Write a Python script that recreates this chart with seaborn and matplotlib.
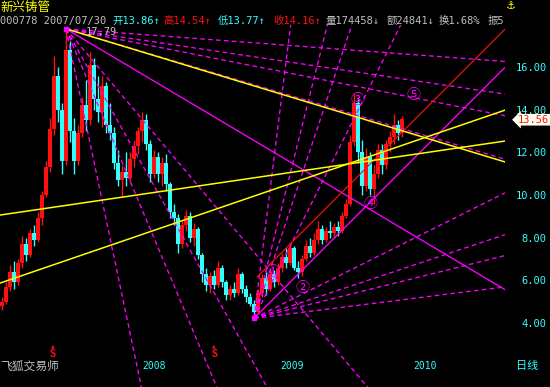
import numpy as np
import pandas as pd
import seaborn as sns
import matplotlib
matplotlib.use("Agg")
import matplotlib.pyplot as plt
from matplotlib.transforms import blended_transform_factory

# daily candles (one every few sessions)
opens = [4.8, 5.0, 5.7, 6.4, 5.9, 6.8, 7.7, 7.2, 8.2, 7.9,
         8.9, 10.0, 11.3, 13.1, 15.6, 14.0, 11.6, 16.8, 13.0, 11.6,
         12.9, 14.2, 13.5, 16.1, 14.5, 13.9, 15.1, 13.3, 12.9, 11.5,
         10.7, 11.1, 10.8, 11.7, 12.3, 13.0, 13.5, 12.4, 11.0, 11.8,
         11.0, 11.5, 10.5, 9.2, 8.9, 7.7, 8.6, 9.0, 8.0, 8.4,
         7.2, 6.3, 5.8, 6.2, 5.8, 6.6, 5.9, 5.3, 5.6, 5.4,
         6.3, 5.6, 5.2, 4.9, 4.5, 5.4, 6.1, 5.6, 6.3, 5.9,
         6.6, 7.1, 6.8, 7.5, 6.6, 6.4, 7.0, 7.6, 7.3, 7.9,
         8.4, 7.9, 8.3, 8.2, 8.5, 8.3, 9.0, 9.6, 12.5, 14.3,
         12.0, 10.4, 11.8, 10.3, 11.0, 12.1, 11.4, 12.4, 12.7, 13.3,
         12.9]
highs = [5.2, 5.9, 6.7, 6.9, 7.0, 8.1, 8.0, 8.4, 8.6, 9.2,
         10.2, 11.6, 13.6, 16.5, 16.0, 14.3, 17.79, 17.2, 13.6, 13.3,
         14.6, 15.4, 16.7, 16.4, 15.6, 15.6, 15.3, 14.3, 13.2, 12.1,
         11.4, 12.0, 12.0, 12.6, 13.2, 13.9, 13.8, 12.6, 12.1, 12.0,
         11.8, 11.9, 10.6, 9.6, 9.1, 8.8, 9.3, 9.2, 8.7, 8.5,
         7.3, 6.6, 6.4, 6.5, 6.9, 6.7, 6.0, 5.8, 5.9, 6.6,
         6.4, 5.8, 5.4, 5.1, 5.6, 6.3, 6.4, 6.6, 6.5, 6.8,
         7.3, 7.5, 7.8, 7.6, 6.9, 7.2, 7.9, 8.0, 8.2, 8.8,
         8.6, 8.5, 8.8, 8.7, 8.8, 9.2, 9.8, 12.8, 14.8, 14.5,
         12.6, 12.2, 12.0, 11.4, 12.4, 12.4, 12.6, 13.0, 13.8, 13.5,
         13.7]
lows = [4.6, 4.9, 5.5, 5.6, 5.8, 6.6, 6.9, 7.1, 7.6, 7.8,
        8.6, 9.9, 11.1, 12.8, 13.4, 11.0, 11.4, 12.5, 11.0, 11.4,
        12.7, 13.0, 13.3, 14.0, 13.4, 13.2, 12.9, 12.6, 11.2, 10.4,
        9.9, 10.4, 10.6, 11.3, 11.9, 12.5, 12.1, 10.6, 10.8, 10.6,
        10.4, 10.2, 8.9, 8.6, 7.3, 7.5, 8.3, 7.8, 7.6, 7.0,
        5.9, 5.5, 5.4, 5.6, 5.7, 5.7, 5.1, 5.1, 5.2, 5.3,
        5.4, 5.0, 4.8, 4.22, 4.4, 5.2, 5.3, 5.5, 5.7, 5.8,
        6.4, 6.6, 6.7, 6.5, 6.1, 6.2, 6.9, 7.1, 7.2, 7.7,
        7.7, 7.8, 8.0, 8.0, 8.1, 8.2, 8.9, 9.5, 12.3, 11.5,
        10.0, 10.2, 10.0, 9.6, 10.8, 11.0, 11.2, 12.0, 12.4, 12.6,
        12.7]
closes = [5.0, 5.7, 6.4, 5.9, 6.8, 7.7, 7.2, 8.2, 7.9, 8.9,
          10.0, 11.3, 13.1, 15.6, 14.0, 11.6, 16.8, 13.0, 11.6, 12.9,
          14.2, 13.5, 16.1, 14.5, 13.9, 15.1, 13.3, 12.9, 11.5, 10.7,
          11.1, 10.8, 11.7, 12.3, 13.0, 13.5, 12.4, 11.0, 11.8, 11.0,
          11.5, 10.5, 9.2, 8.9, 7.7, 8.6, 9.0, 8.0, 8.4, 7.2,
          6.3, 5.8, 6.2, 5.8, 6.6, 5.9, 5.3, 5.6, 5.4, 6.3,
          5.6, 5.2, 4.9, 4.5, 5.4, 6.1, 5.6, 6.3, 5.9, 6.6,
          7.1, 6.8, 7.5, 6.6, 6.4, 7.0, 7.6, 7.3, 7.9, 8.4,
          7.9, 8.3, 8.2, 8.5, 8.3, 9.0, 9.6, 12.5, 14.3, 12.0,
          10.4, 11.8, 10.3, 11.0, 12.1, 11.4, 12.4, 12.7, 13.3, 12.9,
          13.56]

# gann fans: origin bar, origin price, 1x1 slope (price per bar)
fan_origin_idx = [16, 63]
fan_origin_price = [17.79, 4.22]
fan_unit_slope = [-0.1114, 0.1875]
fan_ratios = [8, 4, 3, 2, 1, 1 / 2, 1 / 3, 1 / 4, 1 / 8]

# hand drawn trend lines (start bar, start price, end bar, end price)
yellow_x0 = [16, -0.5, -0.5]
yellow_p0 = [17.79, 9.06, 5.87]
yellow_x1 = [125.75, 125.75, 125.75]
yellow_p1 = [11.55, 12.53, 13.98]
channel_x0, channel_p0 = 63.75, 6.15

wave_labels = ["①", "②", "③", "④", "⑤"]
wave_idx = [67.5, 75.0, 88.75, 92.0, 102.75]
wave_price = [6.39, 5.64, 14.45, 9.56, 14.69]

signal_idx = [12.65, 53.0]
price_ticks = [4, 6, 8, 10, 12, 14, 16]
year_labels = ["2008", "2009", "2010"]
year_idx = [35.0, 69.5, 102.75]
last_price = 13.56

RED, CYAN, YEL, MAG, GRAY = "#ff1010", "#33ffff", "#ffff00", "#ff00ff", "#c0c0c0"

sns.set_theme(style="dark", rc={"axes.facecolor": "black", "figure.facecolor": "black",
                                "savefig.facecolor": "black"})
plt.rcParams["font.family"] = ["DejaVu Sans Mono", "Noto Sans CJK SC"]

fig = plt.figure(figsize=(5.5, 3.87), dpi=100)
ax = fig.add_axes([0, 0, 505 / 550, 362 / 387])
XMAX = 125.75
ax.set_xlim(-0.5, XMAX)
ax.set_ylim(1.0, 17.97)

df = pd.DataFrame({"o": opens, "h": highs, "l": lows, "c": closes})
df["idx"] = np.arange(len(df))
cols = np.where(df.c >= df.o, RED, CYAN)
ax.vlines(df.idx, df.l, df.h, colors=cols, lw=1.0)
body_lo = np.minimum(df.o, df.c)
body_h = np.maximum(np.abs(df.c - df.o), 0.04)
ax.bar(df.idx, body_h, bottom=body_lo, width=0.88, color=cols, linewidth=0)


def seg(x0, p0, x1, p1, color, lw=0.95, ls="-"):
    sns.lineplot(x=[x0, x1], y=[p0, p1], ax=ax, color=color, lw=lw,
                 linestyle=ls, estimator=None, sort=False, legend=False)


# gann fans
for x0, p0, s in zip(fan_origin_idx, fan_origin_price, fan_unit_slope):
    for r in fan_ratios:
        p1 = p0 + s * r * (XMAX - x0)
        seg(x0, p0, XMAX, p1, MAG, ls="-" if r == 1 else (0, (3.5, 2.5)))

# channel line parallel to the low's 1x1
seg(channel_x0, channel_p0, XMAX,
    channel_p0 + fan_unit_slope[1] * (XMAX - channel_x0), RED, lw=0.85)

for a, b, c, d in zip(yellow_x0, yellow_p0, yellow_x1, yellow_p1):
    seg(a, b, c, d, YEL, lw=1.1)

ax.plot(fan_origin_idx, fan_origin_price, "s", color=MAG, ms=3.5)
ax.text(21, 17.66, "17.79", color=GRAY, fontsize=7.5, va="center")

for lab, xi, pi in zip(wave_labels, wave_idx, wave_price):
    ax.text(xi, pi, lab, color=MAG, fontsize=10, ha="center", va="center",
            family=["Noto Sans CJK SC"])

for xi in signal_idx:
    ax.text(xi, 2.95, "▲", color=RED, fontsize=3.5, ha="center", va="center",
            family=["DejaVu Sans"])
    ax.text(xi, 2.55, "S", color=RED, fontsize=7.5, ha="center", va="center",
            fontweight="bold")

for lab, xi in zip(year_labels, year_idx):
    ax.text(xi, 1.98, lab, color=CYAN, fontsize=7, ha="left", va="center")

# price axis on the right
ax.set_xticks([])
ax.yaxis.tick_right()
ax.set_yticks(price_ticks)
ax.set_yticklabels([f"{v:.2f}" for v in price_ticks])
ax.tick_params(axis="y", length=0, pad=30, labelcolor=CYAN, labelsize=7.5)
for lbl in ax.get_yticklabels():
    lbl.set_horizontalalignment("right")
for sp in ax.spines.values():
    sp.set_visible(False)
ax.grid(False)

tr = blended_transform_factory(ax.transAxes, ax.transData)
ax.text(1.026, last_price - 0.03, f"{last_price:.2f}", transform=tr, color=RED, fontsize=7.5,
        ha="left", va="center", clip_on=False,
        bbox=dict(boxstyle="larrow,pad=0.08", fc="#fffff0", ec="none"))


# header
def ftxt(px, py, s, color, size=7.5, family=None):
    kw = {"family": family} if family else {}
    fig.text(px / 550, 1 - py / 387, s, color=color, fontsize=size, ha="left", va="center", **kw)


ftxt(0, 7, "新兴铸管", YEL, 9, ["Noto Sans CJK SC"])
header = [(0, "000778 2007/07/30", GRAY), (112, "开13.86↑", CYAN), (163, "高14.54↑", RED),
          (218, "低13.77↑", CYAN), (273, "收14.16↑", RED), (325, "量174458↓", GRAY),
          (387, "额24841↓", GRAY), (439, "换1.68%", GRAY), (488, "振5", GRAY)]
for px, s, c in header:
    ftxt(px, 21, s, c)
ftxt(506, 6, "⚓", YEL, 8, ["DejaVu Sans"])
ftxt(0, 366, "飞狐交易师", GRAY, 8.5, ["Noto Sans CJK SC"])
ftxt(516, 366, "日线", CYAN, 8, ["Noto Sans CJK SC"])

fig.savefig("out.png", dpi=100)
